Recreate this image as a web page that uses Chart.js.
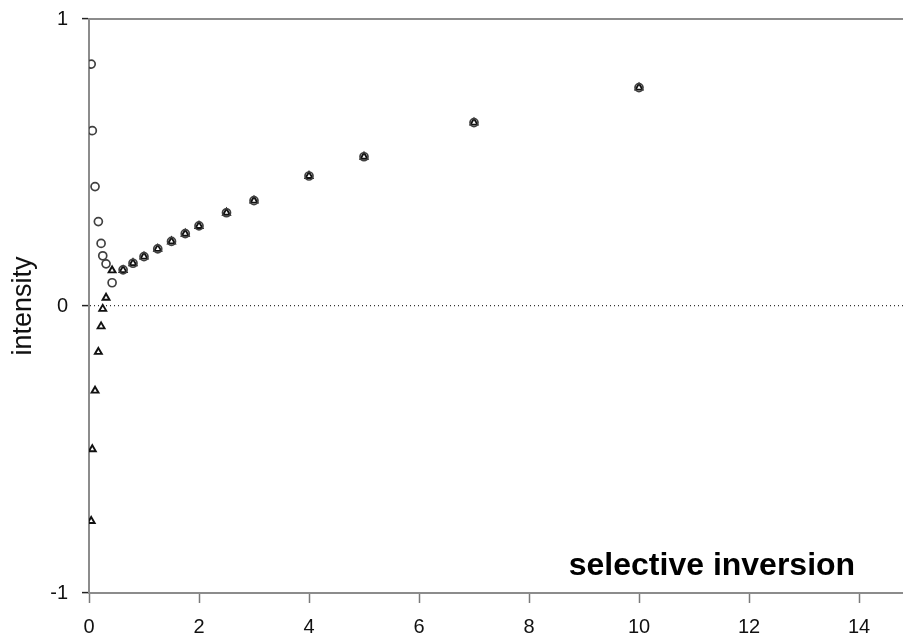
<!DOCTYPE html>
<html>
<head>
<meta charset="utf-8">
<script src="https://cdn.jsdelivr.net/npm/chart.js@4/dist/chart.umd.min.js"></script>
<style>
  html, body { margin: 0; padding: 0; background: #fff; }
  #wrap { width: 903px; height: 634px; }
</style>
</head>
<body>
<div id="wrap"><canvas id="c" width="903" height="634"></canvas></div>
<script>
// recovery delays (x) shared by both series
const delays = [0.04, 0.06, 0.11, 0.17, 0.22, 0.25, 0.31, 0.42, 0.62, 0.8, 1, 1.25, 1.5, 1.75, 2, 2.5, 3, 4, 5, 7, 10];
// intensities: open circles
const circleValues = [0.843, 0.611, 0.416, 0.294, 0.218, 0.175, 0.147, 0.081, 0.126, 0.149, 0.172, 0.199, 0.225, 0.252, 0.279, 0.325, 0.367, 0.453, 0.520, 0.639, 0.761];
// intensities: open triangles
const triangleValues = [-0.749, -0.499, -0.295, -0.160, -0.071, -0.010, 0.029, 0.124, 0.125, 0.149, 0.172, 0.199, 0.225, 0.252, 0.279, 0.325, 0.367, 0.453, 0.520, 0.639, 0.761];
// axis ticks
const xTicks = [0, 2, 4, 6, 8, 10, 12, 14];
const yTicks = [-1, 0, 1];
const panelLabel = 'selective inversion';
const yTitle = 'intensity';

const FONT = '"Liberation Sans", Arial, sans-serif';

const toPoints = (xs, ys) => xs.map((x, i) => ({ x: x, y: ys[i] }));

const panelText = {
  id: 'panelText',
  afterDatasetsDraw(chart) {
    const { ctx, scales } = chart;
    ctx.save();
    ctx.font = 'bold 32px ' + FONT;
    ctx.fillStyle = '#000';
    ctx.textAlign = 'right';
    ctx.textBaseline = 'alphabetic';
    ctx.fillText(panelLabel, scales.x.getPixelForValue(13.93), scales.y.getPixelForValue(-0.936));
    ctx.restore();
  }
};

new Chart(document.getElementById('c'), {
  type: 'scatter',
  data: {
    datasets: [
      {
        label: 'circles',
        data: toPoints(delays, circleValues),
        pointStyle: 'circle',
        pointRadius: 4,
        pointBorderWidth: 1.7,
        pointBorderColor: '#404040',
        pointBackgroundColor: 'rgba(0,0,0,0)',
        xAxisID: 'x', yAxisID: 'y'
      },
      {
        label: 'triangles',
        data: toPoints(delays, triangleValues),
        pointStyle: 'triangle',
        pointRadius: 4,
        pointBorderWidth: 1.9,
        pointBorderColor: '#111',
        pointBackgroundColor: 'rgba(0,0,0,0)',
        xAxisID: 'x', yAxisID: 'y'
      }
    ]
  },
  options: {
    responsive: false,
    animation: false,
    devicePixelRatio: 1,
    layout: { autoPadding: false, padding: { top: 19, right: 0, bottom: 0, left: 0 } },
    plugins: { legend: { display: false }, tooltip: { enabled: false } },
    scales: {
      x: {
        type: 'linear',
        position: 'bottom',
        min: 0,
        max: 14.8,
        afterBuildTicks: s => { s.ticks = xTicks.map(v => ({ value: v })); },
        afterFit: s => { s.height = 41; s.paddingLeft = 0; s.paddingRight = 0; },
        ticks: { font: { size: 20, family: FONT }, color: '#111', padding: 12, maxRotation: 0, autoSkip: false },
        grid: { drawOnChartArea: false, drawTicks: true, tickLength: 10, tickColor: '#7a7a7a', tickWidth: 1.5 },
        border: { display: true, color: '#8c8c8c', width: 2 }
      },
      xTop: {
        type: 'linear',
        position: 'top',
        min: 0,
        max: 14.8,
        afterFit: s => { s.height = 0; s.paddingLeft = 0; s.paddingRight = 0; },
        ticks: { display: false },
        grid: { drawOnChartArea: false, drawTicks: false },
        border: { display: true, color: '#8c8c8c', width: 2 }
      },
      y: {
        type: 'linear',
        min: -1,
        max: 1,
        afterBuildTicks: s => { s.ticks = yTicks.map(v => ({ value: v })); },
        afterFit: s => { s.width = 89; s.paddingTop = 0; s.paddingBottom = 0; },
        ticks: { font: { size: 20, family: FONT }, color: '#111', padding: 14 },
        grid: {
          drawOnChartArea: true,
          drawTicks: true,
          tickLength: 7,
          tickColor: '#222',
          tickWidth: 1.5,
          lineWidth: 1.2,
          color: c => (c.tick && c.tick.value === -1) ? 'rgba(0,0,0,0)' : '#333'
        },
        border: { display: true, color: '#8c8c8c', width: 2, dash: [1, 3] },
        title: { display: true, text: yTitle, font: { size: 27, family: FONT }, color: '#111', padding: { top: 7, bottom: 0 } }
      }
    }
  },
  plugins: [panelText]
});
</script>
</body>
</html>
